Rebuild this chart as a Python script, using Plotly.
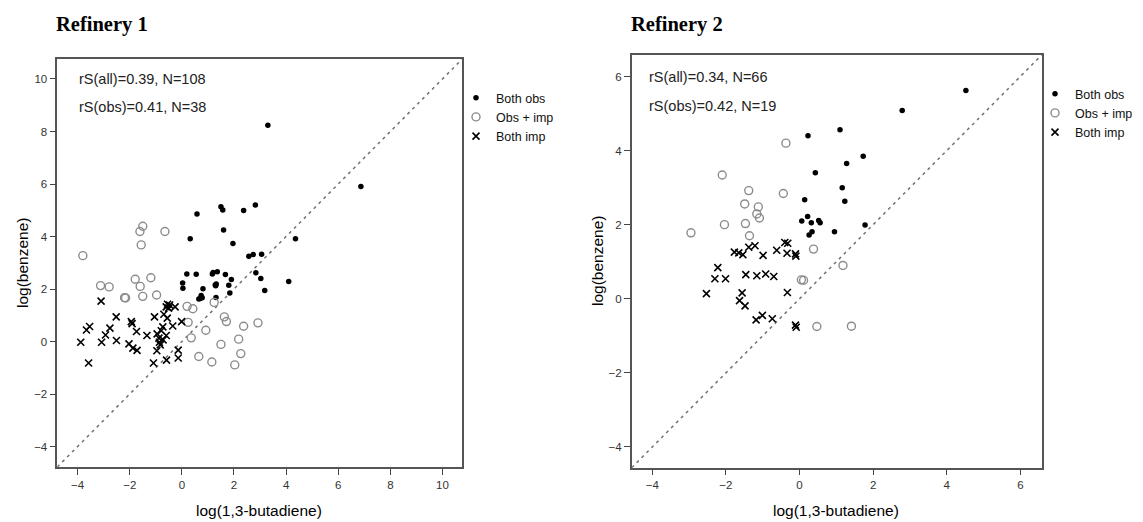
import plotly.graph_objects as go

W, H = 1143, 522

# ---------------- Refinery 1 data ----------------
r1_obs_x = [3.30, 6.87, 0.58, 1.50, 1.57, 2.37, 2.82, 1.60, 0.32, 1.96, 4.36, 2.57, 2.74, 3.06,
            0.19, 0.55, 1.17, 1.20, 1.36, 1.67, 2.84, 1.90, 3.03, 4.10, 0.03, 0.04, 0.81, 1.28,
            1.32, 1.80, 3.18, 1.84, 0.74, 0.78, 0.65, 1.31, 0.70, 1.30]
r1_obs_y = [8.24, 5.90, 4.86, 5.13, 5.01, 4.99, 5.20, 4.25, 3.91, 3.73, 3.91, 3.25, 3.31, 3.32,
            2.57, 2.56, 2.57, 2.63, 2.66, 2.55, 2.62, 2.36, 2.40, 2.29, 2.23, 2.03, 2.01, 2.15,
            2.19, 2.14, 1.94, 1.85, 1.75, 1.67, 1.62, 1.68, 1.64, 2.12]

r1_imp1_x = [-3.80, -1.50, -1.61, -1.56, -0.65, -3.12, -2.79, -1.79, -1.19, -1.60, -2.20, -2.16,
             -1.50, -0.97, 0.20, 0.42, 1.24, 0.24, 1.63, 1.71, 2.37, 2.92, 0.92, 0.36, 2.18,
             1.50, 2.26, 0.65, 1.15, 2.03]
r1_imp1_y = [3.27, 4.39, 4.19, 3.68, 4.19, 2.13, 2.08, 2.37, 2.43, 2.10, 1.67, 1.66,
             1.72, 1.77, 1.34, 1.25, 1.49, 0.73, 0.94, 0.76, 0.58, 0.71, 0.43, 0.14, 0.09,
             -0.11, -0.46, -0.57, -0.78, -0.89]

r1_imp2_x = [-3.88, -3.58, -3.66, -3.54, -3.10, -3.08, -2.93, -2.76, -2.52, -2.51, -2.03, -1.94,
             -1.91, -1.88, -1.74, -1.72, -1.34, -1.05, -1.09, -0.96, -0.95, -0.88, -0.86, -0.83,
             -0.79, -0.73, -0.69, -0.60, -0.55, -0.47, -0.51, -0.56, -0.60, -0.59, -0.35, -0.26,
             -0.14, -0.14, -0.01, -0.72]
r1_imp2_y = [-0.03, -0.82, 0.44, 0.57, 1.54, -0.03, 0.25, 0.51, 0.94, 0.04, -0.09, 0.76,
             0.68, -0.25, 0.38, -0.34, 0.23, 0.94, -0.82, -0.35, 0.29, 0.13, -0.03, -0.13,
             0.41, 0.56, 1.04, 1.32, 1.42, 1.39, 1.27, 0.89, 0.23, -0.71, 0.59, 1.32,
             -0.33, -0.63, 0.76, 0.06]

# ---------------- Refinery 2 data ----------------
r2_obs_x = [4.52, 2.79, 1.10, 0.23, 1.73, 1.28, 0.43, 1.16, 1.23, 0.14, 0.22, 0.06, 0.32,
            0.52, 0.56, 1.78, 0.95, 0.34, 0.26]
r2_obs_y = [5.62, 5.08, 4.56, 4.40, 3.85, 3.65, 3.40, 3.00, 2.63, 2.67, 2.22, 2.10, 2.05,
            2.11, 2.05, 1.99, 1.81, 1.81, 1.72]

r2_imp1_x = [-0.37, -2.10, -1.38, -0.44, -1.49, -1.12, -1.16, -1.09, -2.04, -1.47, -2.95, -1.36,
             0.38, 1.18, 0.05, 0.11, 0.47, 1.41]
r2_imp1_y = [4.20, 3.34, 2.92, 2.84, 2.56, 2.48, 2.29, 2.18, 2.00, 2.03, 1.78, 1.70,
             1.34, 0.90, 0.51, 0.50, -0.75, -0.74]

r2_imp2_x = [-0.40, -0.32, -1.38, -1.21, -1.77, -1.65, -1.54, -0.99, -0.62, -0.34, -0.11, -0.10,
             -2.22, -2.30, -2.01, -1.46, -1.16, -0.92, -0.70, -2.53, -1.56, -1.63, -1.48, -0.33,
             -1.18, -1.01, -0.74, -0.11, -0.09]
r2_imp2_y = [1.52, 1.50, 1.39, 1.43, 1.26, 1.24, 1.19, 1.17, 1.31, 1.23, 1.21, 1.15,
             0.84, 0.54, 0.54, 0.65, 0.62, 0.67, 0.60, 0.14, 0.16, -0.05, -0.19, 0.17,
             -0.57, -0.45, -0.54, -0.71, -0.77]

series_names = ["Both obs", "Obs + imp", "Both imp"]
r1_range = [-4.78, 10.75]
r2_range = [-4.56, 6.58]
r1_ticks = [-4, -2, 0, 2, 4, 6, 8, 10]
r2_ticks = [-4, -2, 0, 2, 4, 6]
stats1 = ["rS(all)=0.39, N=108", "rS(obs)=0.41, N=38"]
stats2 = ["rS(all)=0.34, N=66", "rS(obs)=0.42, N=19"]

fig = go.Figure()

styles = [
    dict(symbol="circle", size=5.5, color="black", line=dict(width=0)),
    dict(symbol="circle-open", size=8, color="#8c8c8c", line=dict(width=1.4, color="#8c8c8c")),
    dict(symbol="x-thin-open", size=7, color="black", line=dict(width=1.6, color="black")),
]

def add_panel(xs, ys, xa, ya, legend):
    for name, x, y, st in zip(series_names, xs, ys, styles):
        fig.add_trace(go.Scatter(x=x, y=y, mode="markers", name=name, marker=st,
                                 xaxis=xa, yaxis=ya, legend=legend, showlegend=True))

add_panel([r1_obs_x, r1_imp1_x, r1_imp2_x], [r1_obs_y, r1_imp1_y, r1_imp2_y], "x", "y", "legend")
add_panel([r2_obs_x, r2_imp1_x, r2_imp2_x], [r2_obs_y, r2_imp1_y, r2_imp2_y], "x2", "y2", "legend2")

# diagonal reference lines y = x
for xr, yr, rng in [("x", "y", r1_range), ("x2", "y2", r2_range)]:
    fig.add_shape(type="line", xref=xr, yref=yr, x0=rng[0], y0=rng[0], x1=rng[1], y1=rng[1],
                  line=dict(color="#707070", width=1.5, dash="3px,4px"), layer="below")

axis_common = dict(showgrid=False, zeroline=False, showline=True, mirror=True,
                   linecolor="#555555", linewidth=1.5, ticks="outside", ticklen=6,
                   tickwidth=1, tickcolor="#444444",
                   tickfont=dict(family="Liberation Sans, Arial", size=11.5, color="#333333"))

def px(v):
    return v / W

def py(v):
    return 1 - v / H

legend_font = dict(family="Liberation Sans, Arial", size=12.5, color="#111111")

fig.update_layout(
    width=W, height=H, margin=dict(l=0, r=0, t=0, b=0),
    paper_bgcolor="white", plot_bgcolor="white",
    xaxis=dict(domain=[px(57.3), px(462)], range=r1_range, tickvals=r1_ticks, anchor="y", **axis_common),
    yaxis=dict(domain=[py(467), py(59.3)], range=r1_range, tickvals=r1_ticks, anchor="x", **axis_common),
    xaxis2=dict(domain=[px(631.7), px(1041.7)], range=r2_range, tickvals=r2_ticks, anchor="y2", **axis_common),
    yaxis2=dict(domain=[py(467.7), py(55)], range=r2_range, tickvals=r2_ticks, anchor="x2", **axis_common),
    legend=dict(x=px(456), y=py(83), xanchor="left", yanchor="top", bgcolor="rgba(0,0,0,0)",
                font=legend_font, tracegroupgap=0, itemwidth=30),
    legend2=dict(x=px(1035), y=py(79), xanchor="left", yanchor="top", bgcolor="rgba(0,0,0,0)",
                 font=legend_font, tracegroupgap=0, itemwidth=30),
    showlegend=True,
)

ann = []
font_stat = dict(family="Liberation Sans, Arial", size=14.5, color="#222222")
for i, t in enumerate(stats1):
    ann.append(dict(text=t, x=px(77), y=py([79, 107][i]), xref="paper", yref="paper",
                    xanchor="left", yanchor="middle", showarrow=False, font=font_stat))
for i, t in enumerate(stats2):
    ann.append(dict(text=t, x=px(647), y=py([77, 106][i]), xref="paper", yref="paper",
                    xanchor="left", yanchor="middle", showarrow=False, font=font_stat))

font_title = dict(family="Liberation Serif, Times New Roman", size=20.5, color="black")
ann.append(dict(text="<b>Refinery 1</b>", x=px(54), y=py(25), xref="paper", yref="paper",
                xanchor="left", yanchor="middle", showarrow=False, font=font_title))
ann.append(dict(text="<b>Refinery 2</b>", x=px(629), y=py(25), xref="paper", yref="paper",
                xanchor="left", yanchor="middle", showarrow=False, font=font_title))

font_axis = dict(family="Liberation Sans, Arial", size=15.5, color="black")
ann.append(dict(text="log(1,3-butadiene)", x=px(259), y=py(510), xref="paper", yref="paper",
                xanchor="center", yanchor="middle", showarrow=False, font=font_axis))
ann.append(dict(text="log(1,3-butadiene)", x=px(836), y=py(510), xref="paper", yref="paper",
                xanchor="center", yanchor="middle", showarrow=False, font=font_axis))
ann.append(dict(text="log(benzene)", x=px(22), y=py(263), xref="paper", yref="paper",
                xanchor="center", yanchor="middle", showarrow=False, font=font_axis, textangle=-90))
ann.append(dict(text="log(benzene)", x=px(597), y=py(261), xref="paper", yref="paper",
                xanchor="center", yanchor="middle", showarrow=False, font=font_axis, textangle=-90))

fig.update_layout(annotations=ann)

fig.write_html("out.html", config={"displayModeBar": False},
               post_script="document.body.style.margin='0';document.body.style.padding='0';")
